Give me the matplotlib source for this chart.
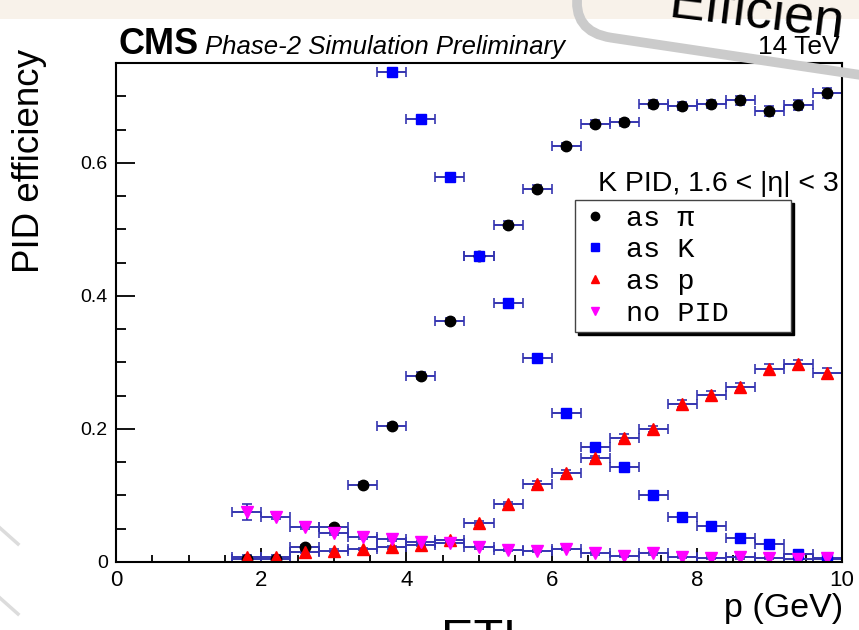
import numpy as np
import matplotlib
matplotlib.use("Agg")
import matplotlib.pyplot as plt
from matplotlib.patches import FancyBboxPatch, Rectangle
from matplotlib.lines import Line2D
from matplotlib.transforms import Affine2D
from matplotlib.ticker import MultipleLocator, FuncFormatter

# bin centres in p (GeV), bins are 0.4 GeV wide
p_centers = [1.8, 2.2, 2.6, 3.0, 3.4, 3.8, 4.2, 4.6, 5.0, 5.4, 5.8,
             6.2, 6.6, 7.0, 7.4, 7.8, 8.2, 8.6, 9.0, 9.4, 9.8]

# kaons identified as pion
eff_pi = [0.005, 0.005, 0.023, 0.052, 0.116, 0.205, 0.280, 0.362, 0.460, 0.507, 0.561,
          0.625, 0.659, 0.661, 0.688, 0.685, 0.688, 0.694, 0.678, 0.687, 0.705]
err_pi = [0.002, 0.002, 0.003, 0.003, 0.004, 0.004, 0.005, 0.005, 0.005, 0.005, 0.005,
          0.005, 0.005, 0.005, 0.006, 0.006, 0.006, 0.007, 0.007, 0.007, 0.008]

# kaons identified as kaon (below 3.8 GeV the points are above the frame)
p_k = [3.8, 4.2, 4.6, 5.0, 5.4, 5.8, 6.2, 6.6, 7.0, 7.4, 7.8, 8.2, 8.6, 9.0, 9.4, 9.8]
eff_k = [0.736, 0.666, 0.578, 0.460, 0.389, 0.306, 0.224, 0.173, 0.143, 0.101, 0.068,
         0.054, 0.036, 0.0275, 0.0125, 0.005]
err_k = [0.004, 0.005, 0.005, 0.005, 0.005, 0.005, 0.005, 0.004, 0.004, 0.004, 0.003,
         0.003, 0.003, 0.003, 0.002, 0.002]

# kaons identified as proton
eff_p = [0.008, 0.008, 0.0155, 0.017, 0.0195, 0.022, 0.0255, 0.033, 0.058, 0.087, 0.117,
         0.134, 0.156, 0.187, 0.200, 0.238, 0.251, 0.263, 0.290, 0.297, 0.284]
err_p = [0.003, 0.002, 0.002, 0.002, 0.002, 0.002, 0.002, 0.003, 0.003, 0.003, 0.004,
         0.004, 0.004, 0.005, 0.005, 0.005, 0.006, 0.006, 0.007, 0.007, 0.007]

# kaons without PID
eff_none = [0.0757, 0.068, 0.052, 0.043, 0.038, 0.0345, 0.0296, 0.029, 0.022, 0.018, 0.0165,
            0.0195, 0.013, 0.0095, 0.013, 0.008, 0.0065, 0.007, 0.006, 0.005, 0.006]
err_none = [0.012, 0.004, 0.003, 0.003, 0.003, 0.003, 0.002, 0.002, 0.002, 0.002, 0.002,
            0.002, 0.002, 0.002, 0.002, 0.002, 0.002, 0.002, 0.002, 0.002, 0.002]

legend_labels = ["as \u03c0", "as K", "as p", "no PID"]

W, H = 859, 630
plt.rcParams['font.family'] = ['Liberation Sans', 'DejaVu Sans']

fig = plt.figure(figsize=(W / 100, H / 100), dpi=100)
# pixel coordinates, origin top-left
px = Affine2D().scale(1 / W, -1 / H).translate(0, 1) + fig.transFigure

ax = fig.add_axes([116 / W, 1 - 562 / H, (842 - 116) / W, (562 - 63) / H])

ecol = '#3535b0'
common = dict(xerr=0.2, linestyle='none', ecolor=ecol, elinewidth=1.4,
              capsize=3.5, capthick=1.2)
ax.errorbar(p_centers, eff_pi, yerr=err_pi, marker='o', ms=7.5, color='black', **common)
ax.errorbar(p_k, eff_k, yerr=err_k, marker='s', ms=7, color='#0000ff', **common)
ax.errorbar(p_centers, eff_p, yerr=err_p, marker='^', ms=8, color='#ff0000', **common)
ax.errorbar(p_centers, eff_none, yerr=err_none, marker='v', ms=8, color='#ff00ff', **common)

ax.set_xlim(0, 10)
ax.set_ylim(0, 0.75)
ax.xaxis.set_major_locator(MultipleLocator(2))
ax.xaxis.set_minor_locator(MultipleLocator(0.5))
ax.yaxis.set_major_locator(MultipleLocator(0.2))
ax.yaxis.set_minor_locator(MultipleLocator(0.05))
ax.xaxis.set_major_formatter(FuncFormatter(lambda v, _: '%g' % v))
ax.yaxis.set_major_formatter(FuncFormatter(lambda v, _: '%g' % v))
ax.tick_params(axis='both', which='both', direction='in', width=1.3)
ax.tick_params(axis='y', which='major', length=14, pad=6, labelsize=14)
ax.tick_params(axis='y', which='minor', length=7)
ax.tick_params(axis='x', which='major', length=10, pad=6, labelsize=16)
ax.tick_params(axis='x', which='minor', length=5)
for s in ax.spines.values():
    s.set_linewidth(1.5)

# legend with solid black shadow, box wider than its content
handles = [Line2D([], [], marker='o', color='black', ls='none', ms=6),
           Line2D([], [], marker='s', color='#0000ff', ls='none', ms=5.5),
           Line2D([], [], marker='^', color='#ff0000', ls='none', ms=6),
           Line2D([], [], marker='v', color='#ff00ff', ls='none', ms=6)]
leg = ax.legend(handles, legend_labels, loc='upper left', mode='expand',
                bbox_to_anchor=(575 / W, 1 - 200 / H, (791 - 575) / W, 0.0),
                bbox_transform=fig.transFigure,
                borderaxespad=0, prop={'family': 'Liberation Mono', 'size': 20.5},
                fancybox=False, framealpha=1, edgecolor='#444444',
                handlelength=1.0, handletextpad=0.6, labelspacing=0.2,
                borderpad=0.2, shadow={'color': 'black', 'alpha': 1})
leg.get_frame().set_linewidth(1.0)

ax.text(0.995, 1 - (191 - 63) / (562 - 63), 'K PID, 1.6 < |\u03b7| < 3',
        transform=ax.transAxes, ha='right', va='baseline', fontsize=20.5)

# labels and CMS header
fig.text(30, 161, 'PID efficiency', transform=px, rotation=90,
         ha='center', va='center', fontsize=26.5)
fig.text(843, 617, 'p (GeV)', transform=px, ha='right', va='baseline', fontsize=24.5)
fig.text(118, 54, 'CMS', transform=px, ha='left', va='baseline',
         fontsize=26, fontweight='bold')
fig.text(205, 54, 'Phase-2 Simulation Preliminary', transform=px, ha='left',
         va='baseline', fontsize=18.5, style='italic')
fig.text(840, 54, '14 TeV', transform=px, ha='right', va='baseline', fontsize=19)

# slide background pieces around the plot
fig.add_artist(Rectangle((0, 0), W, 19, transform=px, facecolor='#f8f2ea',
                         edgecolor='none', zorder=0))
band = FancyBboxPatch((-69, -400), 700, 400, boxstyle='round,pad=0,rounding_size=40',
                      transform=Affine2D().rotate_deg(8.5).translate(640, 42) + px,
                      fill=False, edgecolor='#cbcbcb', linewidth=7, zorder=10)
fig.add_artist(band)
fig.text(668, 17, 'Efficien', transform=px, rotation=-7, rotation_mode='anchor',
         ha='left', va='baseline', fontsize=39, zorder=11)
fig.text(441, 653, 'ETL', transform=px, ha='left', va='baseline', fontsize=35)
for y0 in (528, 598):
    fig.add_artist(Line2D([0, 18], [y0, y0 + 16], transform=px, color='#dcdcdc',
                          lw=2.5, zorder=0))

fig.savefig('out.png', dpi=100)
